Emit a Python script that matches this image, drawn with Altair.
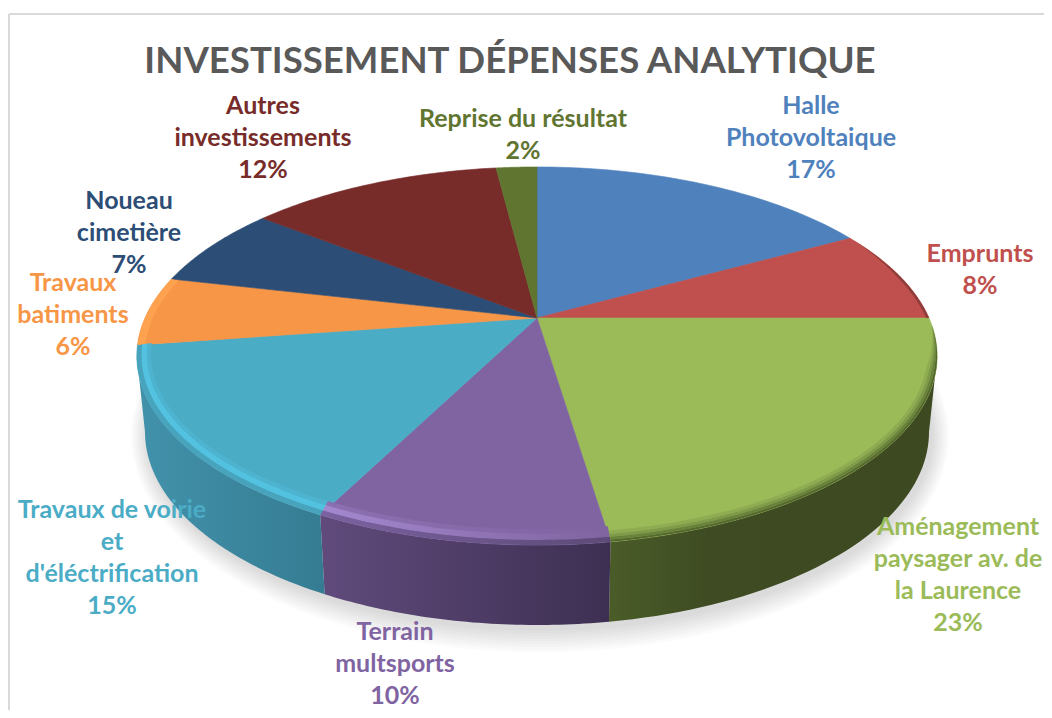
import math
import altair as alt

# ---- data
names = ["Halle\nPhotovoltaique", "Emprunts", "Aménagement\npaysager av. de\nla Laurence",
         "Terrain\nmultsports", "Travaux de voirie\net\nd'éléctrification", "Travaux\nbatiments",
         "Noueau\ncimetière", "Autres\ninvestissements", "Reprise du résultat"]
shares = [17.0, 8.0, 22.6, 9.9, 15.2, 5.9, 7.0, 12.4, 2.0]
colors = ["#4F81BD", "#C0504D", "#9BBB59", "#8064A2", "#4BACC6", "#F79646", "#2C4D75", "#772C2A", "#5F7530"]
label_x = [811, 980, 958, 395, 112, 73, 129, 263, 523]
label_y = [105, 253, 526, 631, 509, 282, 200, 105, 118]
title_text = "INVESTISSEMENT DÉPENSES ANALYTIQUE"

# ---- view of the tilted disc
W, H = 1036, 702
CX, CY, RX, S, K = 537, 318, 392, 181.4, 0.201
BY, BRY = 432, 193          # lower edge of the wall
XMAX = RX / math.sqrt(1 - K * K)
THETA_SIDE = 180 - math.degrees(math.acos(K))
FONT = "Lato"
PAGE_BOX = {"type": "Feature", "properties": {}, "geometry": {"type": "Polygon", "coordinates": [
    [[8, 8], [8 + W, 8], [8 + W, 8 + H], [8, 8 + H], [8, 8]]]}}


def top(deg, t=0.0):
    a = math.radians(deg)
    w = 1 + K * math.cos(a)
    return [CX + RX * math.sin(a) / w * (1 - 0.025 * t), CY - S * math.cos(a) / w * (1 - 0.05 * t)]


def arc(a, b, t=0.0, n=48, taper_from=None, taper=1.0):
    out = []
    for i in range(n + 1):
        d = a + (b - a) * i / n
        f = 1.0
        if taper_from is not None:
            f = min(1.0, abs(d - taper_from) / taper)
        out.append(top(d, t * f))
    return out


def bottom(p):
    dx = p[0] - CX
    u = min(1.0, abs(dx) / XMAX)
    return [CX + dx * RX / XMAX, BY + BRY * math.sqrt(1 - u * u)]


def grad(*stops):
    n = len(stops) - 1
    items = [s if isinstance(s, tuple) else (s, i / n) for i, s in enumerate(stops)]
    return alt.LinearGradient(gradient="linear", x1=0, x2=1, y1=0, y2=0,
                              stops=[alt.GradientStop(color=c, offset=o) for c, o in items])


def poly(points, fill, opacity=1.0, seam=None):
    ring = [[round(x, 2), round(y, 2)] for x, y in points]
    ring.append(ring[0])
    feature = {"type": "Feature", "properties": {}, "geometry": {"type": "Polygon", "coordinates": [ring]}}
    kw = dict(fill=fill, opacity=opacity)
    if seam:
        kw.update(stroke=seam, strokeWidth=0.6)
    else:
        kw.update(strokeWidth=0)
    return alt.Chart(alt.Data(values=[feature])).mark_geoshape(**kw).project(type="identity", fit=PAGE_BOX)


bounds = [0.0]
for v in shares:
    bounds.append(bounds[-1] + v * 3.6)
slices = list(zip(bounds[:-1], bounds[1:]))

layers = []

# soft shadow
for d in [26, 23, 20, 17, 14, 11, 8, 5, 2]:
    ring = []
    for i in range(120):
        a = 2 * math.pi * i / 120
        ring.append([CX + 3 + (RX + d * 0.65) * math.cos(a), BY + 4 + (BRY + d * 0.9) * math.sin(a)])
    layers.append(poly(ring, "#000000", 0.016))

# side walls
walls = {
    2: grad("#4A5C28", ("#3F4C23", 0.3), ("#3D4921", 1.0)),
    3: grad("#604B7C", "#3D2F52"),
    4: grad("#4292AB", "#357C92"),
}
for idx, fill in walls.items():
    a, b = slices[idx]
    a, b = max(a, THETA_SIDE), min(b, 360 - THETA_SIDE)
    edge = arc(a, b)
    pts = edge + [bottom(p) for p in reversed(edge)]
    layers.append(poly(pts, fill))

# top face
for (a, b), col in zip(slices, colors):
    layers.append(poly([[CX, CY]] + arc(a, b), col, seam=col))

# bevel along the front edge
bevels = [
    (1, 62, [(0.3, 0.0, "#8F3D3A")]),
    (2, 92, [(1.0, 0.7, "#8FAC52"), (0.7, 0.45, "#7F9A49"), (0.45, 0.2, "#6A833C"), (0.2, 0.0, "#55692F")]),
    (3, None, [(1.4, 1.0, grad("#8B6FB0", "#8064A2")), (1.0, 0.45, grad("#A488CF", "#7F64A0")),
               (0.45, 0.0, grad("#7A62A0", "#5E4A78"))]),
    (4, None, [(1.4, 1.0, "#4EB3CF"), (1.0, 0.45, "#53C1E0"), (0.45, 0.0, "#48A3BC")]),
    (5, None, [(0.8, 0.0, "#FFA24F")]),
]
for idx, start, bands in bevels:
    a, b = slices[idx]
    if start:
        a = start
        for t1, t2, col in bands:
            layers.append(poly(arc(a, b, t2, taper_from=a, taper=14) +
                               arc(b, a, t1, taper_from=a, taper=14), col))
    else:
        for t1, t2, col in bands:
            layers.append(poly(arc(a, b, t2) + arc(b, a, t1), col))

# frame
layers.append(alt.Chart(alt.Data(values=[{}])).mark_rule(color="#D9D9D9", strokeWidth=2).encode(
    x=alt.value(1), y=alt.value(6), y2=alt.value(H)))
layers.append(alt.Chart(alt.Data(values=[{}])).mark_rule(color="#D9D9D9", strokeWidth=2).encode(
    x=alt.value(1), x2=alt.value(W), y=alt.value(6)))

# labels
rows = [{"text": f"{n}\n{round(v)}%", "x": x, "y": y - 11, "c": c}
        for n, v, x, y, c in zip(names, shares, label_x, label_y, colors)]
xs = alt.X("x:Q", scale=alt.Scale(domain=[8, 8 + W]), axis=None)
ys = alt.Y("y:Q", scale=alt.Scale(domain=[8 + H, 8]), axis=None)
layers.append(alt.Chart(alt.Data(values=rows)).mark_text(
    font=FONT, fontWeight="bold", fontSize=25, lineHeight=32, lineBreak="\n", baseline="top", align="center"
).encode(x=xs, y=ys, text="text:N", color=alt.Color("c:N", scale=None)))

layers.append(alt.Chart(alt.Data(values=[{"text": title_text, "x": 510, "y": 62}])).mark_text(
    font=FONT, fontWeight="bold", fontSize=36.6, color="#595959", baseline="middle", align="center"
).encode(x=xs, y=ys, text="text:N"))

chart = alt.layer(*layers).properties(
    width=W, height=H, padding=0, autosize=alt.AutoSizeParams(type="none"), background="white"
).configure_view(strokeWidth=0)

chart.save("out.html", embed_options={"renderer": "svg", "actions": False})
